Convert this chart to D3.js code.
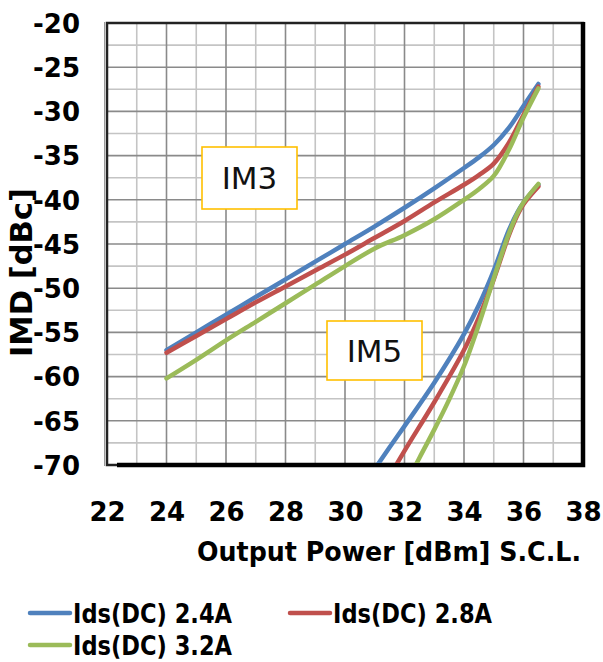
<!DOCTYPE html>
<html>
<head>
<meta charset="utf-8">
<script src="https://cdn.jsdelivr.net/npm/d3@7"></script>
<style>
  html, body { margin: 0; padding: 0; background: #fff; }
  svg { display: block; }
  text { font-family: "DejaVu Sans", Verdana, sans-serif; }
</style>
</head>
<body>
<svg id="chart" width="603" height="662"></svg>
<script>
// Axis ticks
const xTicks = [22, 24, 26, 28, 30, 32, 34, 36, 38];
const yTicks = [-20, -25, -30, -35, -40, -45, -50, -55, -60, -65, -70];

// Legend entries (one per drain bias current)
const seriesNames = ["Ids(DC) 2.4A", "Ids(DC) 2.8A", "Ids(DC) 3.2A"];
const seriesColors = ["#4F81BD", "#C0504D", "#9BBB59"];

// Third-order intermodulation (IM3) vs output power
const im3Pout = [24, 25, 26, 27, 28, 29, 30, 31, 32, 33, 34, 34.5, 35, 35.5, 36, 36.5];
const im3_24A = [-57.0, -55.0, -53.0, -51.0, -49.0, -47.0, -45.0, -43.0, -40.9, -38.7, -36.4, -35.2, -33.8, -31.9, -29.4, -26.9];
const im3_28A = [-57.3, -55.4, -53.5, -51.6, -49.8, -48.0, -46.2, -44.3, -42.4, -40.3, -38.3, -37.2, -35.9, -33.6, -30.4, -27.2];
const im3_32A = [-60.2, -58.1, -55.9, -53.8, -51.7, -49.6, -47.5, -45.5, -44.0, -42.2, -40.0, -38.8, -37.3, -34.4, -30.7, -27.4];

// Fifth-order intermodulation (IM5) vs output power
const im5Pout_24A = [30.6, 31.5, 32, 33, 34, 34.5, 35, 35.5, 35.8, 36, 36.5];
const im5_24A     = [-72.4, -68.0, -65.6, -60.7, -55.2, -51.9, -48.0, -43.5, -41.4, -40.3, -38.3];
const im5Pout_28A = [31.2, 32, 33, 34, 34.5, 35, 35.5, 35.8, 36, 36.5];
const im5_28A     = [-73.0, -68.4, -62.9, -57.0, -53.3, -49.0, -44.1, -41.7, -40.5, -38.5];
const im5Pout_32A = [32.0, 32.5, 33, 33.5, 34, 34.5, 35, 35.5, 35.8, 36, 36.5];
const im5_32A     = [-72.5, -69.2, -66.0, -62.6, -58.8, -54.1, -48.9, -43.9, -41.5, -40.3, -38.2];

// Annotation labels
const annotations = ["IM3", "IM5"];

const svg = d3.select("#chart");
const plot = { left: 107, top: 23, right: 583, bottom: 465 };

const x = d3.scaleLinear().domain([22, 38]).range([plot.left, plot.right]);
const y = d3.scaleLinear().domain([-70, -20]).range([plot.bottom, plot.top]);

// Gridlines: minor every 1 dBm / 2.5 dBc, major at tick values
const minorX = d3.range(23, 38, 2);
const minorY = d3.range(-67.5, -20, 5);
const grid = svg.append("g");
grid.selectAll(".mx").data(minorX).join("line")
  .attr("x1", d => x(d)).attr("x2", d => x(d))
  .attr("y1", plot.top).attr("y2", plot.bottom)
  .attr("stroke", "#c4c4c4").attr("stroke-width", 1.6);
grid.selectAll(".my").data(minorY).join("line")
  .attr("y1", d => y(d)).attr("y2", d => y(d))
  .attr("x1", plot.left).attr("x2", plot.right)
  .attr("stroke", "#c4c4c4").attr("stroke-width", 1.6);
grid.selectAll(".gx").data(xTicks.slice(1, -1)).join("line")
  .attr("x1", d => x(d)).attr("x2", d => x(d))
  .attr("y1", plot.top).attr("y2", plot.bottom)
  .attr("stroke", "#8a8a8a").attr("stroke-width", 1.6);
grid.selectAll(".gy").data(yTicks.slice(1, -1)).join("line")
  .attr("y1", d => y(d)).attr("y2", d => y(d))
  .attr("x1", plot.left).attr("x2", plot.right)
  .attr("stroke", "#8a8a8a").attr("stroke-width", 1.6);

// Plot frame with a heavy shadow edge on right and bottom
svg.append("rect")
  .attr("x", plot.left).attr("y", plot.top)
  .attr("width", plot.right - plot.left).attr("height", plot.bottom - plot.top)
  .attr("fill", "none").attr("stroke", "#222").attr("stroke-width", 2.5);
svg.append("line")
  .attr("x1", plot.left - 2.5).attr("x2", plot.left - 2.5)
  .attr("y1", plot.top - 1).attr("y2", plot.bottom + 1)
  .attr("stroke", "#9a9a9a").attr("stroke-width", 1);
svg.append("path")
  .attr("d", `M${plot.right},${plot.top - 1} V${plot.bottom} H${plot.left + 10}`)
  .attr("fill", "none").attr("stroke", "#000").attr("stroke-width", 4.5);

// Axes via d3 axis generators, labels only
const yAxis = svg.append("g").attr("transform", `translate(${80},0)`)
  .call(d3.axisLeft(y).tickValues(yTicks).tickSize(0).tickPadding(0).tickFormat(d => String(d)));
yAxis.select(".domain").remove();
yAxis.selectAll("text")
  .attr("font-family", "DejaVu Sans").attr("font-weight", "bold")
  .attr("font-size", 26).attr("fill", "#000").attr("dy", "0.36em");

const xAxis = svg.append("g").attr("transform", `translate(0,${502})`)
  .call(d3.axisBottom(x).tickValues(xTicks).tickSize(0).tickPadding(0).tickFormat(d => String(d)));
xAxis.select(".domain").remove();
xAxis.selectAll("text")
  .attr("font-family", "DejaVu Sans").attr("font-weight", "bold")
  .attr("font-size", 26).attr("fill", "#000").attr("dy", "0.73em");

// Axis titles (slightly condensed bold face)
svg.append("text")
  .attr("x", 197).attr("y", 561)
  .attr("font-weight", "bold").attr("font-size", 26).attr("fill", "#000")
  .attr("textLength", 384).attr("lengthAdjust", "spacingAndGlyphs")
  .text("Output Power [dBm] S.C.L.");
svg.append("text")
  .attr("transform", "translate(32,357) rotate(-90)")
  .attr("font-weight", "bold").attr("font-size", 31).attr("fill", "#000")
  .attr("textLength", 169).attr("lengthAdjust", "spacingAndGlyphs")
  .text("IMD [dBc]");

// Curves, clipped to the plot area
svg.append("clipPath").attr("id", "plotClip")
  .append("rect")
  .attr("x", plot.left).attr("y", plot.top)
  .attr("width", plot.right - plot.left).attr("height", plot.bottom - plot.top - 2);

const line = d3.line()
  .x(d => x(d[0])).y(d => y(d[1]))
  .curve(d3.curveCatmullRom.alpha(0.5));

const zipSeries = (xs, ys) => xs.map((v, i) => [v, ys[i]]);
const curves = [
  { pts: zipSeries(im3Pout, im3_24A), c: 0 },
  { pts: zipSeries(im5Pout_24A, im5_24A), c: 0 },
  { pts: zipSeries(im3Pout, im3_28A), c: 1 },
  { pts: zipSeries(im5Pout_28A, im5_28A), c: 1 },
  { pts: zipSeries(im3Pout, im3_32A), c: 2 },
  { pts: zipSeries(im5Pout_32A, im5_32A), c: 2 }
];

svg.append("g").attr("clip-path", "url(#plotClip)")
  .selectAll("path").data(curves).join("path")
  .attr("d", d => line(d.pts))
  .attr("fill", "none")
  .attr("stroke", d => seriesColors[d.c])
  .attr("stroke-width", 4.5)
  .attr("stroke-linecap", "round")
  .attr("stroke-linejoin", "round");

// Annotation boxes
const boxes = [
  { label: annotations[0], x: 202, y: 147, w: 95, h: 62 },
  { label: annotations[1], x: 327, y: 321, w: 95, h: 59 }
];
const ann = svg.append("g").selectAll("g").data(boxes).join("g");
ann.append("rect")
  .attr("x", d => d.x).attr("y", d => d.y)
  .attr("width", d => d.w).attr("height", d => d.h)
  .attr("fill", "#fff").attr("stroke", "#FFC000").attr("stroke-width", 1.6);
ann.append("text")
  .attr("x", d => d.x + d.w / 2).attr("y", d => d.y + d.h / 2)
  .attr("dy", "0.36em")
  .attr("text-anchor", "middle")
  .attr("font-size", 31).attr("fill", "#111")
  .text(d => d.label);

// Legend
const legendPos = [
  { lx: 28, ty: 613 },
  { lx: 288, ty: 613 },
  { lx: 28, ty: 645 }
];
const leg = svg.append("g").selectAll("g").data(seriesNames).join("g")
  .attr("transform", (d, i) => `translate(${legendPos[i].lx},${legendPos[i].ty})`);
leg.append("line")
  .attr("x1", 2).attr("x2", 42).attr("y1", 0).attr("y2", 0)
  .attr("stroke", (d, i) => seriesColors[i])
  .attr("stroke-width", 4.5).attr("stroke-linecap", "round");
leg.append("text")
  .attr("x", 45).attr("y", 0).attr("dy", "0.37em")
  .attr("font-weight", "bold").attr("font-size", 26).attr("fill", "#000")
  .attr("textLength", 159).attr("lengthAdjust", "spacingAndGlyphs")
  .text(d => d);
</script>
</body>
</html>
